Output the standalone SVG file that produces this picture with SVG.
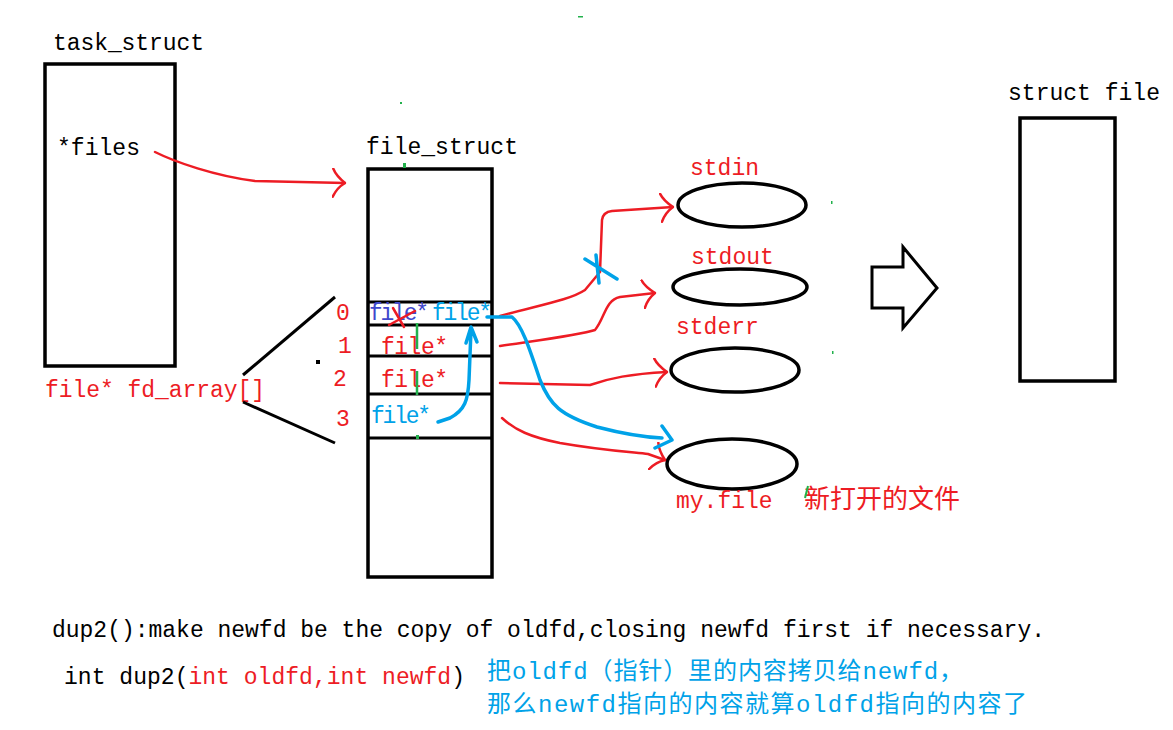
<svg xmlns="http://www.w3.org/2000/svg" width="1173" height="730" viewBox="0 0 1173 730">
<style>
.box{fill:none;stroke:#000;stroke-width:3.5}
.ln{fill:none;stroke:#000;stroke-width:3}
.t{font-family:"Liberation Mono","Noto Sans CJK SC",monospace;font-size:23px}
.cjk{font-family:"Noto Sans CJK SC",sans-serif;font-size:26px}
.blk{fill:#000}
.red{fill:#ed1c24}
.blue{fill:#00a2e8}
.ind{fill:#3f48cc}
.rl{fill:none;stroke:#ed1c24;stroke-width:2.5;stroke-linecap:round;stroke-linejoin:round}
.bl{fill:none;stroke:#00a2e8;stroke-width:3.5;stroke-linecap:round;stroke-linejoin:round}
.gl{fill:none;stroke:#22b14c;stroke-width:2.5}
.ell{fill:none;stroke:#000;stroke-width:3.5}
</style>
<defs>
<marker id="ra" viewBox="0 0 14 30" refX="13" refY="15" markerWidth="14" markerHeight="30" markerUnits="userSpaceOnUse" orient="auto">
<path d="M1,1 Q4,8 13,15 Q5,20 1,29" fill="none" stroke="#ed1c24" stroke-width="2.5" stroke-linecap="round"/>
</marker>
</defs>
<rect width="1173" height="730" fill="#fff"/>

<g id="task_struct">
<text class="t blk" x="53" y="50" textLength="151">task_struct</text>
<rect class="box" x="45" y="64" width="130" height="302"/>
<text class="t blk" x="57" y="155" textLength="83">*files</text>
<text class="t red" x="45" y="397" textLength="220">file* fd_array[]</text>
<line class="ln" x1="243" y1="375" x2="335" y2="297"/>
<line class="ln" x1="243" y1="402" x2="335" y2="443"/>
<rect x="316" y="360" width="4" height="4" fill="#000"/>
</g>

<g id="file_struct">
<text class="t blk" x="366" y="154" textLength="152">file_struct</text>
<rect class="box" x="368" y="169" width="124" height="408"/>
<line class="ln" x1="368" y1="302" x2="492" y2="302"/>
<line class="ln" x1="368" y1="325" x2="492" y2="325"/>
<line class="ln" x1="368" y1="356" x2="492" y2="356"/>
<line class="ln" x1="368" y1="394" x2="492" y2="394"/>
<line class="ln" x1="368" y1="438" x2="492" y2="438"/>
<text class="t red" x="336" y="320">0</text>
<text class="t red" x="338" y="353">1</text>
<text class="t red" x="333" y="386">2</text>
<text class="t red" x="336" y="426">3</text>
<text class="t ind" x="369" y="320" textLength="60">file*</text>
<text class="t blue" x="432" y="320" textLength="60">file*</text>
<text class="t red" x="381" y="354" textLength="67">file*</text>
<text class="t red" x="381" y="387" textLength="67">file*</text>
<text class="t blue" x="371" y="423" textLength="60">file*</text>
<path class="rl" d="M393,308 L404,327 M415,311 L389,325"/>
<path class="gl" d="M417,323 L417,349 M417,371 L417,395"/>
<rect x="403" y="163" width="3" height="5" fill="#22b14c"/>
<rect x="416" y="435" width="3" height="4" fill="#22b14c"/>
</g>

<g id="stdin">
<text class="t red" x="690" y="175">stdin</text>
<ellipse class="ell" cx="742" cy="205" rx="64" ry="22"/>
</g>
<g id="stdout">
<text class="t red" x="691" y="264">stdout</text>
<ellipse class="ell" cx="740" cy="287" rx="67" ry="18"/>
</g>
<g id="stderr">
<text class="t red" x="676" y="334">stderr</text>
<ellipse class="ell" cx="735" cy="370" rx="64" ry="22"/>
</g>
<g id="myfile">
<ellipse class="ell" cx="732" cy="464" rx="65" ry="25"/>
<text class="t red" x="676" y="508">my.file</text>
<text class="cjk red" x="804" y="508" textLength="156">新打开的文件</text>
</g>

<g id="block_arrow">
<polygon points="872,267 903,267 903,247 937,288 903,328 903,308 872,308" fill="#fff" stroke="#000" stroke-width="3"/>
</g>

<g id="struct_file">
<text class="t blk" x="1008" y="100" textLength="152">struct file</text>
<rect class="box" x="1020" y="118" width="95" height="263"/>
</g>

<g id="connectors">
<path class="rl" marker-end="url(#ra)" d="M155,152 C175,162 215,176 255,181 L345,183"/>
<path class="rl" marker-end="url(#ra)" d="M500,316 C540,305 570,300 585,290 L600,272 L602,220 Q603,212 612,211 L673,207"/>
<path class="rl" marker-end="url(#ra)" d="M500,346 C540,340 580,335 595,330 C605,318 605,300 620,297 L655,293"/>
<path class="rl" marker-end="url(#ra)" d="M500,383 L590,385 C610,378 630,374 667,372"/>
<path class="rl" marker-end="url(#ra)" d="M502,418 C515,430 530,437 560,443 C600,450 630,452 648,454 L665,460"/>
<path class="bl" d="M585,259 L617,279 M596,255 L599,283"/>
<path class="bl" d="M438,422 L450,418 C465,410 468,400 469,380 L471,330 M466,343 L471,327 L477,342"/>
<path class="bl" d="M487,317 L512,317 C522,325 530,350 540,380 C550,405 560,415 597,427 C620,433 640,437 662,438 M662,426 L672,440 L655,448"/>
</g>

<g id="notes">
<text class="t blk" x="52" y="637" textLength="993">dup2():make newfd be the copy of oldfd,closing newfd first if necessary.</text>
<text class="t blk" x="64" y="684" textLength="401">int dup2(<tspan class="red">int oldfd,int newfd</tspan>)</text>
<text class="t blue" x="487" y="679" style="font-size:24px" textLength="476">把oldfd（指针）里的内容拷贝给newfd，</text>
<text class="t blue" x="487" y="712" style="font-size:24px" textLength="540">那么newfd指向的内容就算oldfd指向的内容了</text>
</g>

<g id="marks">
<rect x="578" y="16" width="5" height="1.5" fill="#22b14c"/>
<rect x="400" y="102" width="2" height="2" fill="#22b14c"/>
<rect x="831" y="201" width="1.5" height="3" fill="#22b14c"/>
<rect x="832" y="351" width="1.5" height="3" fill="#22b14c"/>
<path d="M808,486 L805,498" stroke="#22b14c" stroke-width="2"/>
</g>
</svg>
